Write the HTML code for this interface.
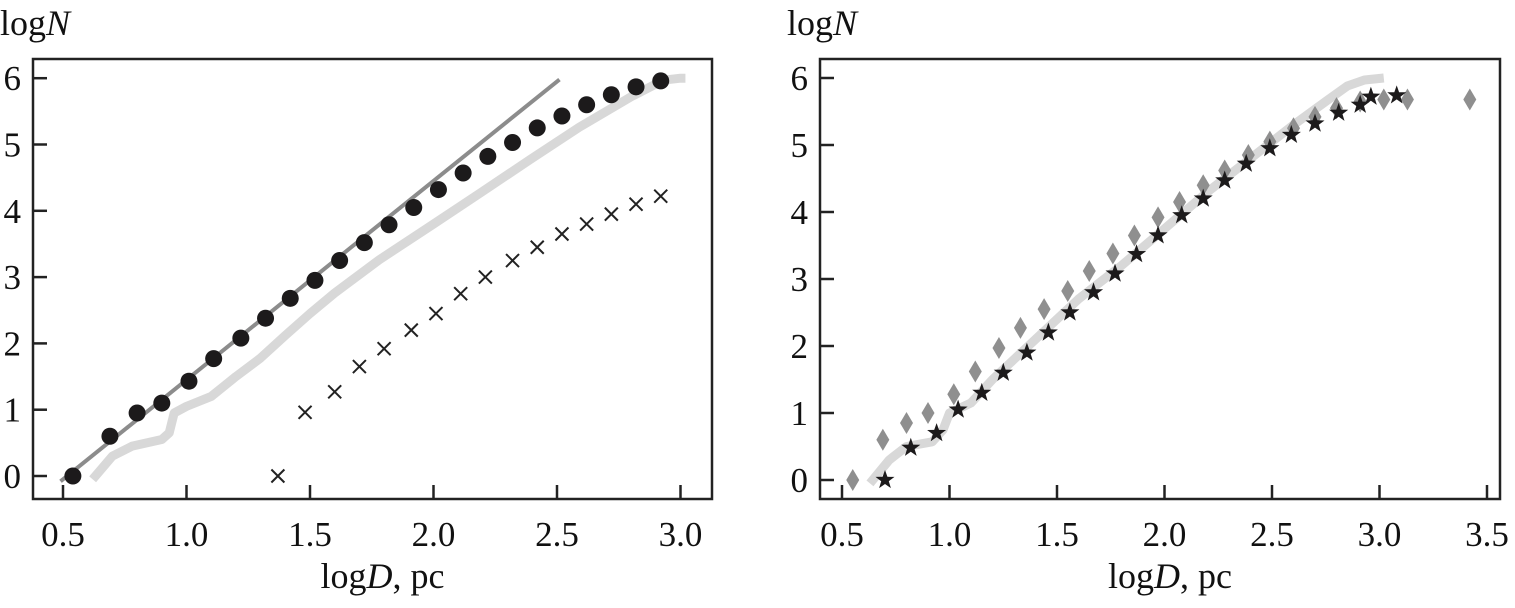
<!DOCTYPE html>
<html><head><meta charset="utf-8"><style>
html,body{margin:0;padding:0;background:#fff;}
svg{display:block;}
text{font-family:"Liberation Serif",serif;}
</style></head><body>
<svg id="chart" width="1515" height="608" viewBox="0 0 1515 608" xmlns="http://www.w3.org/2000/svg"></svg>
<script>
// Left panel data
const dotsX=[0.54,0.69,0.80,0.90,1.01,1.11,1.22,1.32,1.42,1.52,1.62,1.72,1.82,1.92,2.02,2.12,2.22,2.32,2.42,2.52,2.62,2.72,2.82,2.92];
const dotsY=[0,0.6,0.95,1.1,1.43,1.77,2.08,2.38,2.68,2.95,3.25,3.52,3.79,4.05,4.32,4.57,4.82,5.03,5.25,5.43,5.6,5.75,5.87,5.96];
const crossX=[1.37,1.48,1.60,1.70,1.80,1.91,2.01,2.11,2.21,2.32,2.42,2.52,2.62,2.72,2.82,2.92];
const crossY=[0,0.96,1.27,1.65,1.92,2.2,2.45,2.75,3.0,3.25,3.45,3.65,3.8,3.95,4.1,4.22];
const fitX=[0.49,2.51];
const fitY=[-0.08,5.98];
const curveX=[0.62,0.7,0.78,0.9,0.93,0.95,1.0,1.1,1.2,1.3,1.4,1.5,1.6,1.78,2.0,2.19,2.39,2.59,2.8,2.93,3.0,3.02];
const curveY=[-0.05,0.3,0.45,0.55,0.65,0.95,1.05,1.2,1.5,1.78,2.12,2.45,2.76,3.26,3.8,4.27,4.77,5.26,5.72,5.97,6.0,6.0];
// Right panel data
const diaX=[0.55,0.69,0.80,0.90,1.02,1.12,1.23,1.33,1.44,1.55,1.65,1.76,1.86,1.97,2.07,2.18,2.28,2.39,2.49,2.60,2.70,2.80,2.91,3.02,3.13,3.42];
const diaY=[0,0.6,0.85,1.0,1.28,1.62,1.97,2.27,2.55,2.82,3.12,3.38,3.65,3.92,4.15,4.4,4.62,4.85,5.05,5.25,5.42,5.55,5.65,5.68,5.68,5.68];
const starX=[0.7,0.82,0.94,1.04,1.15,1.25,1.36,1.46,1.56,1.67,1.77,1.87,1.97,2.08,2.18,2.28,2.38,2.49,2.59,2.70,2.81,2.91,2.96,3.08];
const starY=[0,0.48,0.7,1.05,1.3,1.6,1.9,2.2,2.5,2.8,3.08,3.37,3.65,3.95,4.2,4.47,4.72,4.95,5.15,5.32,5.48,5.6,5.72,5.74];
const curve2X=[0.63,0.72,0.8,0.92,0.97,1.0,1.1,1.2,1.3,1.4,1.5,1.6,1.8,2.0,2.2,2.4,2.6,2.75,2.85,2.93,3.02];
const curve2Y=[-0.05,0.3,0.5,0.57,0.75,1.0,1.15,1.5,1.8,2.1,2.4,2.7,3.2,3.75,4.3,4.8,5.3,5.65,5.88,5.97,6.0];
const xTicksL=[0.5,1.0,1.5,2.0,2.5,3.0];
const xTicksR=[0.5,1.0,1.5,2.0,2.5,3.0,3.5];
const yTicks=[0,1,2,3,4,5,6];

const svg=document.getElementById('chart');
const NS='http://www.w3.org/2000/svg';
const FONT='"Liberation Serif", serif';
function mk(tag,attrs,parent){const e=document.createElementNS(NS,tag);for(const k in attrs)e.setAttribute(k,attrs[k]);(parent||svg).appendChild(e);return e;}

function panel(name,box,x0px,xPer,y0px,yPer,xticks,titleX){
  const g=mk('g',{});
  
  
  const X=v=>x0px+(v-0.5)*xPer, Y=v=>y0px-v*yPer;
  return {g,X,Y,box,xticks,titleX};
}
function axes(p){
  const {g,X,Y,box,xticks}=p;
  const r=mk('rect',{x:box[0],y:box[1],width:box[2]-box[0],height:box[3]-box[1],fill:'none',stroke:'#222','stroke-width':2.5},g);
  
  
  xticks.forEach(t=>{
    const x=X(t);
    const l=mk('line',{x1:x,x2:x,y1:box[3],y2:box[3]-14,stroke:'#222','stroke-width':2.5},g);
    
    
    const tx=mk('text',{x:x,y:546,'font-size':35,'font-family':FONT,'text-anchor':'middle',fill:'#111'},g);
    tx.textContent=t.toFixed(1);
    
    
  });
  yTicks.forEach(t=>{
    const y=Y(t);
    const l=mk('line',{x1:box[0],x2:box[0]+14,y1:y,y2:y,stroke:'#222','stroke-width':2.5},g);
    
    
    const tx=mk('text',{x:box[0]-12,y:y+12,'font-size':35,'font-family':FONT,'text-anchor':'end',fill:'#111'},g);
    tx.textContent=t;
    
    
  });
  const yt=mk('text',{x:p.titleX,y:35,'font-size':36,'font-family':FONT,fill:'#111'},g);
  yt.innerHTML='log<tspan font-style="italic">N</tspan>';
  
  
  const xt=mk('text',{x:(box[0]+box[2])/2+10,y:588,'font-size':36,'font-family':FONT,'text-anchor':'middle',fill:'#111'},g);
  xt.innerHTML='log<tspan font-style="italic">D</tspan>, pc';
  
  
}
function polyline(p,xs,ys,stroke,w,name){
  const pts=xs.map((x,i)=>p.X(x)+','+p.Y(ys[i])).join(' ');
  const e=mk('polyline',{points:pts,fill:'none',stroke:stroke,'stroke-width':w,'stroke-linejoin':'round'},p.g);
  
  
}

// Left
const L=panel('left-panel',[33,59,712,499],63,247,476,66.3,xTicksL,0);
axes(L);
polyline(L,curveX,curveY,'#d8d8d8',9,'model-curve');
polyline(L,fitX,fitY,'#8c8c8c',4,'fit-line');
dotsX.forEach((x,i)=>{
  const c=mk('circle',{cx:L.X(x),cy:L.Y(dotsY[i]),r:8.5,fill:'#1c1a1b'},L.g);
  
  
});
crossX.forEach((x,i)=>{
  const cx=L.X(x),cy=L.Y(crossY[i]),s=6.5;
  const c=mk('path',{d:`M${cx-s},${cy-s}L${cx+s},${cy+s}M${cx-s},${cy+s}L${cx+s},${cy-s}`,stroke:'#222','stroke-width':2,fill:'none'},L.g);
  
  
});

// Right
const R=panel('right-panel',[820,59,1500,499],842,215,480,67,xTicksR,787);
axes(R);
polyline(R,curve2X,curve2Y,'#d8d8d8',9,'model-curve');
diaX.forEach((x,i)=>{
  const cx=R.X(x),cy=R.Y(diaY[i]);
  const d=mk('path',{d:`M${cx},${cy-11}L${cx+6.5},${cy}L${cx},${cy+11}L${cx-6.5},${cy}Z`,fill:'#8f8f8f'},R.g);
  
  
});
starX.forEach((x,i)=>{
  const cx=R.X(x),cy=R.Y(starY[i]);
  let pts=[];
  for(let k=0;k<10;k++){const a=-Math.PI/2+k*Math.PI/5;const rr=k%2?4:10;pts.push((cx+rr*Math.cos(a)).toFixed(1)+','+(cy+rr*Math.sin(a)).toFixed(1));}
  const s=mk('polygon',{points:pts.join(' '),fill:'#1c1a1b'},R.g);
  
  
});
</script>
</body></html>
